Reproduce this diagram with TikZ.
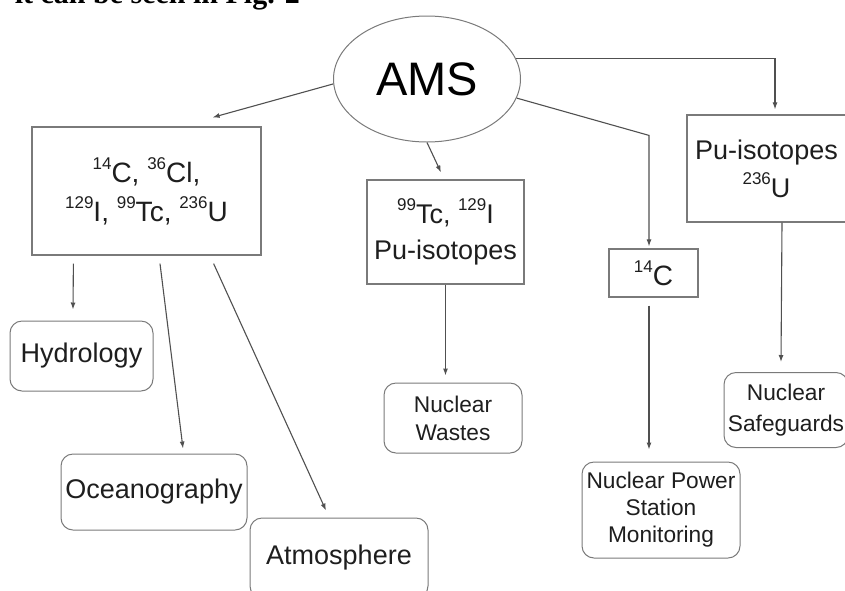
\documentclass[tikz,border=0pt]{standalone}
\usepackage{fontspec}
\setmainfont{Liberation Sans}
\newfontfamily\pageserif{Liberation Serif}
\usetikzlibrary{shapes.geometric,arrows.meta,calc}
\definecolor{linegray}{HTML}{505050}
\definecolor{boxgray}{HTML}{7A7A7A}
\definecolor{inkgray}{HTML}{1E1E1E}
\newcommand{\nuclide}[2]{\raisebox{13pt}{\fontsize{17}{17}\selectfont #1}#2}
\tikzset{
  isobox/.style={draw=boxgray,line width=1.2pt,align=center,inner sep=0pt,text=inkgray,font=\fontsize{28}{38}\selectfont},
  fieldbox/.style={draw=boxgray,line width=1pt,rounded corners=12pt,align=center,inner sep=0pt,text=inkgray},
  bigfield/.style={fieldbox,font=\fontsize{27}{30}\selectfont},
  smallfield/.style={fieldbox,font=\fontsize{22.7}{28}\selectfont},
  link/.style={draw=linegray,line width=1.1pt,-{Latex[length=7pt,width=5pt]}}
}
\begin{document}
\begin{tikzpicture}[x=1pt,y=-1pt]
\path[use as bounding box,clip] (0,0) rectangle (845,590);
% cut-off line of the page above the figure
\node[anchor=base east,inner sep=0pt,font=\pageserif\bfseries\fontsize{30}{30}\selectfont] (pagetext) at (300,3) {it can be seen in Fig. 2};
% top
\node[ellipse,draw=boxgray,line width=1pt,minimum width=187pt,minimum height=126pt,inner sep=0pt,text=black,font=\fontsize{47}{47}\selectfont] (ams) at (427,79) {AMS};
% isotope boxes
\node[isobox,minimum width=229pt,minimum height=128pt,font=\fontsize{28}{39}\selectfont] (iso) at (146.5,191) {\nuclide{14}{C}, \nuclide{36}{Cl},\\ \nuclide{129}{I}, \nuclide{99}{Tc}, \nuclide{236}{U}};
\node[isobox,minimum width=157pt,minimum height=104pt,font=\fontsize{27}{36}\selectfont] (tcbox) at (445.5,232) {\nuclide{99}{Tc}, \nuclide{129}{I}\\Pu-isotopes};
\node[isobox,minimum width=89pt,minimum height=48pt] (c14) at (653.5,273) {\nuclide{14}{C}};
\node[isobox,minimum width=159pt,minimum height=107pt,font=\fontsize{27}{38}\selectfont] (pubox) at (766.5,168.5) {Pu-isotopes\\\nuclide{236}{U}};
% fields
\node[bigfield,minimum width=143pt,minimum height=70pt] (hyd) at (81.5,356) {Hydrology};
\node[bigfield,minimum width=186pt,minimum height=76pt] (ocean) at (154,492) {Oceanography};
\node[bigfield,minimum width=178pt,minimum height=80pt] (atmo) at (339,558) {Atmosphere};
\node[smallfield,minimum width=138pt,minimum height=70pt] (waste) at (453,418) {Nuclear\\Wastes};
\node[smallfield,minimum width=158pt,minimum height=96pt,font=\fontsize{22.7}{27}\selectfont] (power) at (661,510) {Nuclear Power\\Station\\Monitoring};
\node[smallfield,minimum width=124pt,minimum height=75pt,font=\fontsize{22.7}{31}\selectfont] (safe) at (786,410) {Nuclear\\Safeguards};
% arrows from AMS
\draw[link] (ams.183) -- ($(iso.north east)+(-49,-9)$);
\draw[link] (ams.south) -- ($(tcbox.north)+(-4.5,-7)$);
\draw[link] (ams.348) -- ($(c14.north)+(-4.5,-113)$) -- ($(c14.north)+(-4.5,-2)$);
\draw[link] (ams.13) -| ($(pubox.north)+(8.5,-5)$);
% arrows to fields
\draw[link] ($(iso.south west)+(42,8)$) -- ($(hyd.north)+(-8.5,-11)$);
\draw[link] ($(iso.south)+(13.5,8)$) -- ($(ocean.north)+(29,-5)$);
\draw[link] ($(iso.south east)+(-48,8)$) -- ($(atmo.north)+(-13,-7)$);
\draw[link] (tcbox.south) -- ($(waste.north)+(-7.5,-7)$);
\draw[link] ($(c14.south)+(-4.5,8)$) -- ($(power.north)+(-12,-12)$);
\draw[link] ($(pubox.south)+(15.5,0)$) -- ($(safe.north)+(-5,-10)$);
\end{tikzpicture}
\end{document}
